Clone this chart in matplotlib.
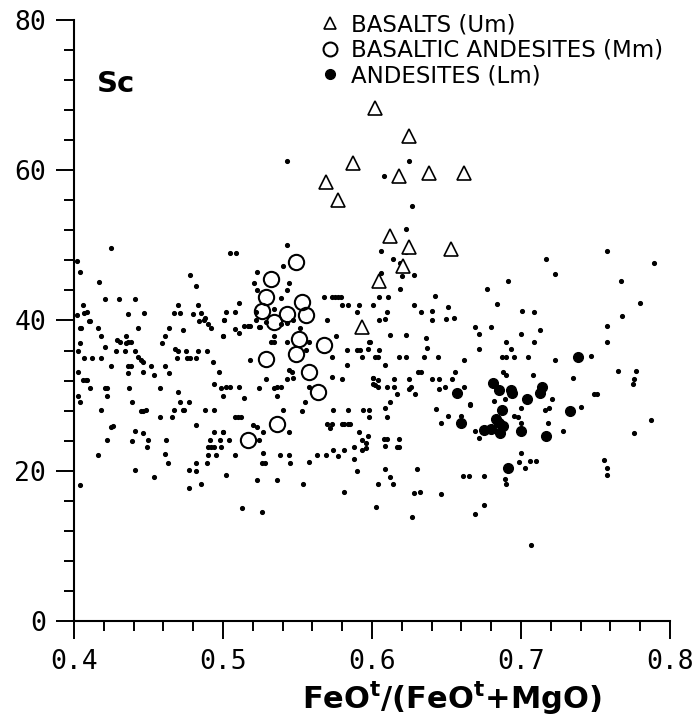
#Libraries
import numpy as np
import matplotlib
matplotlib.use('Agg')
import matplotlib.pyplot as plt
from matplotlib.lines import Line2D
from matplotlib.ticker import MultipleLocator

plt.rcParams['mathtext.fontset']='dejavusans'

#Data: FeOt/(FeOt+MgO) vs Sc
#Basalts (Um)
bas_x=[0.602,0.625,0.587,0.618,0.638,0.662,0.569,0.577,0.612,0.625,0.653,0.621,0.605,0.593]
bas_y=[68.3,64.6,60.9,59.3,59.7,59.7,58.4,56.1,51.3,49.8,49.5,47.2,45.2,39.1]

#Basaltic andesites (Mm)
band_x=[0.549,0.532,0.529,0.553,0.526,0.543,0.556,0.534,0.551,0.568,0.529,0.549,0.558,0.564,0.536,0.517]
band_y=[47.8,45.5,43.1,42.4,41.2,40.9,40.7,39.8,37.5,36.8,34.9,35.5,33.2,30.5,26.2,24.1]

#Andesites (Lm)
and_x=[0.681,0.685,0.693,0.694,0.704,0.714,0.713,0.657,0.687,0.660,0.683,0.685,0.688,0.686,0.675,0.680,0.700,0.717,0.733,0.691,0.738]
and_y=[31.7,30.7,30.7,30.4,29.5,31.1,30.3,30.4,28.1,26.3,26.9,26.3,25.9,25.0,25.4,25.6,25.3,24.6,28.0,20.3,35.1]

#Other samples (small dots)
dot_x=[0.404,0.478,0.417,0.482,0.421,0.430,0.441,0.406,0.470,0.483,0.402,0.407,0.409,0.436,0.447,0.467,0.471,0.480,0.485,0.488,
       0.487,0.484,0.501,0.410,0.411,0.490,0.492,0.404,0.405,0.416,0.443,0.464,0.473,0.418,0.435,0.461,0.500,0.429,0.431,0.435,
       0.436,0.438,0.404,0.459,0.421,0.403,0.428,0.434,0.441,0.468,0.470,0.475,0.483,0.489,0.443,0.445,0.407,0.412,0.418,0.469,
       0.476,0.478,0.482,0.446,0.493,0.425,0.436,0.438,0.452,0.461,0.403,0.436,0.446,0.454,0.464,0.497,0.406,0.408,0.409,0.494,
       0.411,0.421,0.422,0.437,0.458,0.499,0.403,0.422,0.470,0.500,0.404,0.439,0.471,0.477,
       0.425,0.402,0.543,0.540,0.505,0.509,0.543,
       0.418,0.445,0.446,0.448,0.467,0.473,0.474,0.488,0.494,0.458,0.466,0.426,0.425,0.482,0.441,0.446,0.494,0.500,0.422,0.439,
       0.450,0.462,0.491,0.498,0.449,0.490,0.492,0.494,0.499,0.416,0.461,0.490,0.495,0.463,0.482,0.489,0.441,0.477,0.482,0.454,
       0.404,0.485,0.477,
       0.523,0.521,0.544,0.543,0.523,0.568,0.573,0.575,0.577,0.579,0.580,0.584,0.591,0.539,0.502,0.508,0.511,0.522,0.534,0.590,
       0.501,0.522,0.529,0.570,0.514,0.517,0.518,0.508,0.524,0.525,0.539,0.543,0.547,0.500,0.511,0.534,0.552,0.543,0.534,0.532,
       0.558,0.576,0.598,0.599,0.583,0.590,0.592,0.597,0.573,0.556,0.518,0.593,0.583,0.544,0.546,0.547,0.529,0.573,0.580,0.601,
       0.502,0.505,0.511,0.524,0.534,0.536,0.539,0.543,0.558,0.601,0.514,0.536,0.555,
       0.540,0.553,0.574,0.584,0.594,0.598,0.598,0.508,0.510,0.512,0.520,0.523,0.527,0.544,0.570,0.573,0.572,0.580,0.581,0.584,
       0.585,0.591,0.597,0.593,0.596,0.596,0.593,0.588,0.500,0.504,0.524,0.527,0.538,0.544,0.563,0.569,0.574,0.577,0.581,0.588,
       0.508,0.526,0.528,0.545,0.558,0.590,0.502,0.523,0.536,0.554,0.581,0.513,0.526,
       0.620,0.628,0.619,0.605,0.611,0.642,0.628,0.601,0.651,0.610,0.633,0.640,0.605,0.609,0.640,0.650,0.655,0.691,0.677,0.684,
       0.701,0.669,0.672,0.680,0.612,0.623,0.636,0.690,0.700,0.605,0.637,0.672,0.693,0.602,0.604,0.618,0.623,0.635,0.644,0.662,
       0.687,0.690,0.695,0.609,0.631,0.633,0.656,0.688,0.690,0.601,0.604,0.615,0.625,0.640,0.645,0.654,0.602,0.604,0.610,0.615,
       0.626,0.625,0.645,0.649,0.662,0.617,0.629,0.612,0.666,0.689,0.682,
       0.625,0.608,0.627,0.623,0.606,0.623,0.614,0.619,0.606,0.758,0.717,0.789,0.723,0.767,0.780,0.768,0.709,0.758,0.713,0.758,
       0.709,0.705,0.723,0.747,0.708,0.735,0.765,0.777,0.776,0.775,0.749,0.751,0.721,
       0.609,0.643,0.666,0.610,0.651,0.660,0.646,0.669,0.672,0.695,0.698,0.700,0.700,0.608,0.610,0.618,0.609,0.617,0.618,0.700,
       0.699,0.609,0.630,0.612,0.604,0.614,0.661,0.665,0.675,0.689,0.690,0.628,0.632,0.646,0.603,0.675,0.669,0.627,
       0.740,0.719,0.716,0.718,0.728,0.787,0.776,0.706,0.710,0.703,0.756,0.758,0.758,0.707]
dot_y=[46.5,46.0,45.1,44.6,42.9,42.9,42.9,42.0,42.0,42.0,40.7,41.0,41.1,40.8,41.0,41.0,41.0,40.9,41.0,40.3,
       40.1,39.9,40.0,39.9,39.9,39.5,39.0,39.0,39.0,39.0,39.0,39.0,38.7,38.0,38.0,38.0,38.0,37.4,37.1,37.0,
       37.1,37.1,37.0,37.0,36.5,36.0,36.0,36.0,36.0,36.2,36.0,36.0,36.0,36.0,35.1,34.8,35.0,35.0,35.0,35.0,
       35.0,35.0,35.0,34.5,34.5,34.0,34.0,34.0,34.0,34.0,33.2,33.0,33.2,32.7,33.0,33.1,32.1,32.1,32.1,31.6,
       31.0,31.0,31.0,31.0,31.0,31.0,30.0,30.0,30.5,30.0,29.1,29.1,29.1,29.2,
       49.6,47.9,50.1,47.2,49.0,49.0,61.2,
       28.1,27.9,28.0,28.1,28.1,28.1,28.1,28.1,28.1,27.2,27.1,26.0,25.8,26.1,25.3,25.0,25.1,25.1,24.1,23.9,
       24.1,24.1,24.1,24.1,23.1,23.1,23.1,23.1,23.1,22.1,22.2,22.1,22.1,21.0,21.0,21.0,20.1,20.1,20.0,19.2,
       18.1,18.2,17.7,
       46.5,45.0,45.0,44.1,44.0,43.1,43.1,43.1,43.1,43.1,42.1,42.1,42.1,43.0,41.1,41.1,42.3,41.1,41.5,41.1,
       40.0,40.0,39.8,40.1,39.3,39.3,39.3,38.9,39.1,39.1,39.5,39.7,40.1,38.0,38.4,38.0,39.0,37.2,37.1,37.1,
       37.1,38.0,37.1,37.1,36.1,36.1,36.1,36.2,35.1,36.1,34.7,35.1,34.1,33.4,33.2,32.4,32.2,32.5,32.2,32.3,
       31.1,31.1,31.1,31.0,31.0,31.1,31.1,32.2,31.1,31.5,29.7,29.9,29.2,
       28.1,27.9,28.1,28.1,28.1,28.1,27.2,27.1,27.1,27.1,26.1,25.8,25.2,25.2,26.2,26.2,25.7,26.2,26.2,26.2,
       26.2,25.1,24.6,24.1,23.7,23.0,22.7,23.2,25.1,24.1,24.1,22.4,22.1,22.1,22.1,22.1,22.8,22.0,22.8,21.6,
       22.1,21.0,21.0,21.0,21.1,20.0,19.5,18.8,18.8,18.2,17.2,15.1,14.5,
       45.9,46.1,44.2,43.1,43.1,43.2,42.1,42.1,41.8,41.1,41.1,41.2,40.1,40.2,40.1,40.2,40.3,45.2,44.2,42.2,
       41.2,39.2,38.2,39.2,38.1,38.1,37.7,37.2,38.2,36.1,36.4,36.2,36.2,35.1,35.1,35.1,35.1,35.1,35.2,34.7,
       35.2,35.2,35.2,34.1,33.2,33.2,33.2,33.2,32.7,32.3,32.1,32.2,32.2,32.2,32.2,32.2,31.4,31.1,31.2,31.2,
       31.1,30.9,30.9,31.2,31.2,30.2,30.2,29.2,28.9,29.5,29.3,
       61.2,59.2,55.2,52.2,49.2,49.1,48.2,47.6,46.3,49.3,48.2,47.6,46.2,45.3,42.3,40.6,41.1,39.3,38.7,37.1,
       37.2,35.2,34.7,35.3,32.8,32.3,33.3,33.3,32.2,31.5,30.2,30.2,29.5,
       28.3,28.2,28.7,27.2,27.3,27.3,26.3,25.3,24.3,27.3,27.1,28.3,26.3,24.2,24.2,24.2,23.3,23.2,23.2,22.3,
       21.2,20.2,20.2,19.2,18.2,18.2,19.3,19.3,19.3,18.9,18.3,17.1,17.2,16.9,15.2,15.4,14.3,13.8,
       28.5,28.3,28.1,26.3,25.3,26.8,25.0,21.3,21.3,20.3,21.4,20.3,19.4,10.1]

x_ticks=[0.4,0.5,0.6,0.7,0.8]
x_ticklabels=['0.4','0.5','0.6','0.7','0.8']
y_ticks=[0,20,40,60,80]
y_ticklabels=['0','20','40','60','80']
labels=['BASALTS (Um)','BASALTIC ANDESITES (Mm)','ANDESITES (Lm)']

#Plot
fig=plt.figure(figsize=(6.96,7.17),dpi=100)
ax=fig.add_axes([0.1063,0.1339,0.8563,0.8382])

ax.plot(dot_x,dot_y,linestyle='none',marker='o',ms=2.7,color='black')
ax.plot(band_x,band_y,linestyle='none',marker='o',ms=11,mfc='none',mec='black',mew=1.5)
ax.plot(bas_x,bas_y,linestyle='none',marker='^',ms=10,mfc='white',mec='black',mew=1.2)
ax.plot(and_x,and_y,linestyle='none',marker='o',ms=7,color='black')

ax.set_xlim(0.4,0.8)
ax.set_ylim(0,80)
ax.spines['top'].set_visible(False)
ax.spines['right'].set_visible(False)
for s in ['left','bottom']:
    ax.spines[s].set_linewidth(1.5)
ax.set_xticks(x_ticks)
ax.set_xticklabels(x_ticklabels,fontfamily='DejaVu Sans Mono')
ax.set_yticks(y_ticks)
ax.set_yticklabels(y_ticklabels,fontfamily='DejaVu Sans Mono')
ax.xaxis.set_minor_locator(MultipleLocator(0.02))
ax.yaxis.set_minor_locator(MultipleLocator(4))
ax.tick_params(which='major',direction='out',length=13,width=1.4,pad=7,labelsize=19)
ax.tick_params(which='minor',direction='out',length=7.5,width=1.4)

ax.text(0.4154,70.4,'Sc',fontsize=21,fontweight='bold',fontfamily='DejaVu Sans',va='baseline',ha='left')

fig.text(0.649,0.011,r'$\mathbf{FeO}^{\mathbf{t}}\mathbf{/(FeO}^{\mathbf{t}}\mathbf{+MgO)}$',
         fontsize=22,ha='center',va='baseline')

handles=[Line2D([],[],linestyle='none',marker='^',ms=9,mfc='white',mec='black',mew=1.2),
         Line2D([],[],linestyle='none',marker='o',ms=10,mfc='none',mec='black',mew=1.5),
         Line2D([],[],linestyle='none',marker='o',ms=7,color='black')]
fig.legend(handles,labels,loc='upper left',bbox_to_anchor=(320/696,1-13/717),frameon=False,
           borderpad=0,borderaxespad=0,handlelength=0.9,handletextpad=0.45,labelspacing=0.12,
           prop={'family':'DejaVu Sans','size':16.5})

plt.savefig('out.png',dpi=100)
